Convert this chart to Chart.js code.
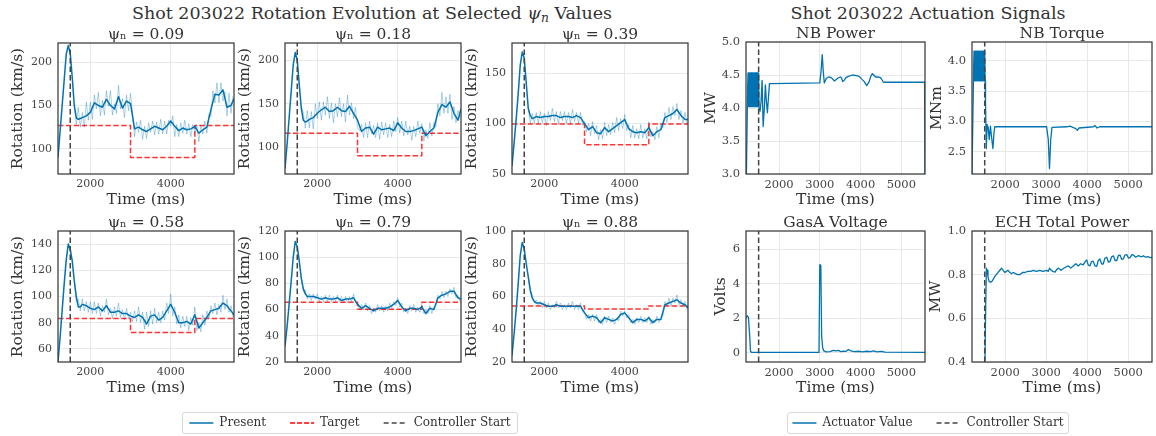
<!DOCTYPE html>
<html>
<head>
<meta charset="utf-8">
<title>Shot 203022</title>
<script src="https://cdn.jsdelivr.net/npm/chart.js@4.4.1/dist/chart.umd.min.js"></script>
<style>
  body { margin: 0; background: #fff; }
  #fig { position: relative; width: 1156px; height: 436px; overflow: hidden; font-family: "DejaVu Serif", serif; color: #333; }
  #fig canvas { position: absolute; }
  .suptitle { position: absolute; top: 2px; font-size: 17.5px; line-height: 22px; text-align: center; white-space: nowrap; }
  .suptitle sub { font-size: 0.7em; vertical-align: -0.25em; line-height: 0; }
  .legendbox { position: absolute; border: 1px solid #d9d9d9; border-radius: 3px; box-sizing: border-box; }
</style>
</head>
<body>
<div id="fig">
  <div class="suptitle" style="left:0;width:744px">Shot 203022 Rotation Evolution at Selected <i>ψ<sub>n</sub></i> Values</div>
  <div class="suptitle" style="left:700px;width:456px">Shot 203022 Actuation Signals</div>
  <div class="legendbox" style="left:182px;top:412px;width:336px;height:22px"></div>
  <div class="legendbox" style="left:787px;top:412px;width:282px;height:22px"></div>
</div>
<script>
"use strict"
//----- rotation data (km/s) -----
// smoothed trace time base (ms)
const tFit = [1195,1250,1300,1350,1400,1450,1500,1550,1600,1650,1700,1750,1800,1900,2000,2100,2200,2300,2400,2500,2600,2700,2800,2900,3000,3100,3200,3300,3400,3500,3600,3700,3800,3900,4000,4100,4200,4300,4400,4500,4600,4700,4800,4900,5000,5100,5200,5300,5400,5500,5575];
// raw (unsmoothed) trace time base (ms)
const tRaw = [1600,1650,1700,1750,1800,1850,1900,1950,2000,2050,2100,2150,2200,2250,2300,2350,2400,2450,2500,2550,2600,2650,2700,2750,2800,2850,2900,2950,3000,3050,3100,3150,3200,3250,3300,3350,3400,3450,3500,3550,3600,3650,3700,3750,3800,3850,3900,3950,4000,4050,4100,4150,4200,4250,4300,4350,4400,4450,4500,4550,4600,4650,4700,4750,4800,4850,4900,4950,5000,5050,5100,5150,5200,5250,5300,5350,5400,5450,5500,5550];
// target step times (ms)
const targetT = [1195, 3000, 4600, 5575];
const controllerStart = 1500;

const psiValues = ["0.09", "0.18", "0.39", "0.58", "0.79", "0.88"];

const fit09 = [90,122,151,180,209,219,210,182,150,136,134,135,136,138,142,153,150,148,157,150,146,160,147,155,152,123,125,122,120,123,126,124,122,126,132,126,121,124,122,123,126,118,122,125,145,163,162,168,148,150,158];
const raw09 = [150,128,148,125,142,125,154,133,154,134,162,146,165,138,156,139,167,149,167,139,152,141,173,146,158,136,162,144,164,141,114,131,119,133,111,126,112,130,119,132,116,131,117,134,117,132,117,133,126,138,114,128,114,130,118,133,117,129,114,128,118,128,108,127,117,132,118,140,137,167,153,176,153,176,155,166,138,164,141,161];
const target09 = [127, 90, 127, 127];

const fit18 = [75,105,135,165,195,209,200,172,145,131,129,130,132,134,139,143,146,141,142,146,142,141,147,139,131,118,122,123,115,123,120,121,122,119,128,122,118,118,119,121,123,113,118,122,140,149,146,152,139,131,144];
const raw18 = [147,140,122,142,122,141,121,150,133,152,131,152,137,158,133,151,128,150,135,157,135,150,129,160,137,151,133,146,122,119,126,111,128,111,130,115,125,111,128,109,129,114,128,111,126,112,130,118,134,116,130,113,130,114,124,108,124,112,130,116,127,107,120,110,128,113,128,123,150,136,163,139,158,139,161,132,147,128,142,134];
const target18 = [116, 90, 116, 116];

const fit39 = [58,82,105,130,158,171,165,140,115,108,105,106,107,106,107,107,108,108,106,107,107,106,108,106,100,94,97,91,90,96,92,95,98,101,104,95,92,91,92,91,96,88,92,94,106,108,110,114,108,104,104];
const raw39 = [116,100,110,100,111,100,112,101,110,98,112,103,115,102,112,99,112,103,112,100,111,100,114,102,111,100,111,99,102,92,100,88,102,90,98,84,94,85,101,88,99,89,101,91,106,93,105,95,109,93,99,86,98,86,95,85,99,86,95,85,102,87,92,84,97,86,100,96,111,101,116,104,117,108,120,104,113,100,111,99];
const target39 = [99.5, 79, 99.5, 99.5];

const fit58 = [50,70,90,110,128,140,136,127,112,100,92,92,94,93,91,90,92,89,93,88,88,89,87,87,85,84,86,84,79,85,86,82,84,89,94,88,80,80,81,79,86,76,80,84,89,90,91,95,93,89,86];
const raw58 = [113,96,98,89,98,89,96,88,96,87,96,87,95,85,93,88,98,86,91,83,92,85,95,84,90,82,91,83,88,81,89,81,92,80,88,75,88,77,89,79,91,80,88,80,89,82,95,87,102,85,92,79,86,76,85,77,85,74,84,78,92,74,80,73,86,78,89,83,93,87,95,86,94,88,101,90,98,88,93,84];
const target58 = [83.3, 72.6, 83.3, 83.3];

const fit79 = [32,48,65,82,100,112,108,97,84,76,72,70,70,70,69,68,69,68,68,69,67,68,68,69,64,61,63,61,59,61,61,61,62,64,67,62,59,61,61,60,62,57,61,60,69,71,72,74,74,69,68];
const raw79 = [84,74,75,68,72,67,72,68,72,66,70,66,71,66,71,66,70,66,71,66,70,65,70,65,70,66,72,65,65,60,64,60,65,59,63,57,61,58,64,59,63,58,63,59,65,61,66,63,69,62,65,58,61,57,63,59,64,58,62,58,64,57,60,57,63,57,62,63,71,68,74,69,74,70,76,72,77,69,71,66];
const target79 = [65.6, 60.2, 65.6, 65.6];

const fit88 = [24,38,52,68,85,93,89,80,72,64,59,57,56,56,55,54,54,55,54,54,54,54,54,54,50,47,48,47,44,47,46,45,46,49,50,47,44,46,46,45,47,44,46,46,55,56,57,58,56,55,53];
const raw88 = [72,62,61,56,58,54,57,53,57,53,56,52,55,53,57,53,56,52,55,52,56,53,57,52,55,52,56,51,51,46,49,45,49,45,49,44,46,43,48,44,48,44,47,43,47,45,51,48,51,47,49,44,46,43,47,44,48,44,47,44,48,43,46,44,48,44,47,48,57,54,59,54,59,56,61,55,58,54,57,52];
const target88 = [54.2, 52.3, 54.2, 54.2];

// tick labels
const rotTicksX = [2000, 4000];
const rotTicks09 = [100, 150, 200];
const rotTicks18 = [100, 150, 200];
const rotTicks39 = [50, 100, 150];
const rotTicks58 = [60, 80, 100, 120, 140];
const rotTicks79 = [20, 40, 60, 80, 100, 120];
const rotTicks88 = [20, 40, 60, 80, 100];

//----- actuation data -----
const nbPowerT = [1190,1200,1230,1240,1250,1260,1270,1280,1290,1300,1310,1320,1330,1340,1350,1360,1370,1380,1390,1400,1410,1420,1430,1440,1450,1460,1470,1480,1490,1500,1510,1535,1560,1585,1610,1640,1665,1690,1715,1740,1765,1800,3000,3030,3060,3085,3110,3160,3220,3280,3360,3440,3500,3530,3560,3600,3640,3700,3800,3900,3965,4040,4090,4150,4210,4250,4290,4370,4430,4490,4530,4560,5570,5580];
const nbPowerV = [2.9,3.0,4.3,4.53,4.02,4.53,4.02,4.53,4.02,4.53,4.02,4.53,4.02,4.53,4.02,4.53,4.02,4.53,4.02,4.53,4.02,4.53,4.02,4.53,4.02,4.53,4.02,4.53,4.02,4.53,4.0,3.95,4.1,4.42,3.72,4.0,4.35,4.1,3.93,4.15,4.37,4.37,4.38,4.55,4.81,4.55,4.38,4.45,4.47,4.46,4.41,4.45,4.47,4.46,4.40,4.42,4.46,4.48,4.50,4.49,4.48,4.43,4.40,4.34,4.40,4.48,4.52,4.47,4.47,4.46,4.42,4.39,4.39,2.9];

const nbTorqueT = [1190,1230,1240,1250,1260,1270,1280,1290,1300,1310,1320,1330,1340,1350,1360,1370,1380,1390,1400,1410,1420,1430,1440,1450,1460,1470,1480,1490,1500,1510,1520,1540,1560,1585,1610,1640,1665,1700,1725,1745,3010,3050,3080,3110,3140,3500,3580,3650,3720,3760,3800,4150,4190,4240,4300,5580];
const nbTorqueV = [2.1,3.9,4.16,3.67,4.16,3.67,4.16,3.67,4.16,3.67,4.16,3.67,4.16,3.67,4.16,3.67,4.16,3.67,4.16,3.67,4.16,3.67,4.16,3.67,4.16,3.67,4.16,3.67,4.16,3.67,3.3,2.55,2.95,2.9,2.7,2.92,2.75,2.55,2.8,2.91,2.91,2.7,2.22,2.7,2.9,2.91,2.92,2.9,2.88,2.85,2.89,2.91,2.93,2.89,2.91,2.91];

const gasT = [1190,1220,1250,1280,1300,1330,2980,3000,3025,3045,3070,3100,3150,3250,3330,3400,3450,3520,3580,3640,3700,3760,3850,3950,4050,4150,4250,4320,4400,4500,4600,5580];
const gasV = [2.0,2.15,2.05,1.0,0.1,0.03,0.03,5.1,5.05,1.0,0.3,0.12,0.06,0.08,0.15,0.12,0.15,0.08,0.1,0.09,0.2,0.12,0.08,0.1,0.07,0.1,0.08,0.12,0.07,0.09,0.05,0.04];

const echT = [1500,1520,1540,1560,1580,1605,1640,1680,1740,1800,1870,1910,1950,1990,2030,2070,2110,2150,2200,2250,2300,2355,2420,2480,2550,2620,2680,2760,2845,2920,3010,3050,3080,3120,3160,3215,3260,3300,3360,3420,3480,3540,3600,3660,3720,3780,3840,3900,3950,3985,4025,4065,4105,4145,4190,4230,4270,4310,4350,4390,4430,4475,4515,4555,4600,4640,4680,4720,4760,4800,4840,4880,4920,4965,5005,5045,5090,5130,5180,5250,5310,5370,5430,5490,5540,5580];
const echV = [0.3,0.6,0.83,0.82,0.79,0.77,0.765,0.77,0.79,0.805,0.82,0.83,0.82,0.81,0.815,0.82,0.81,0.805,0.81,0.805,0.8,0.8,0.81,0.81,0.815,0.815,0.82,0.815,0.82,0.815,0.82,0.815,0.83,0.82,0.815,0.812,0.825,0.83,0.82,0.828,0.835,0.84,0.83,0.84,0.85,0.84,0.85,0.845,0.86,0.868,0.845,0.84,0.86,0.862,0.84,0.838,0.865,0.872,0.85,0.848,0.875,0.88,0.858,0.86,0.883,0.886,0.865,0.865,0.888,0.89,0.87,0.872,0.89,0.892,0.876,0.878,0.892,0.89,0.88,0.887,0.882,0.886,0.88,0.882,0.878,0.879];

const actTicksX = [2000, 3000, 4000, 5000];
const nbPowerTicks = [3.0, 3.5, 4.0, 4.5, 5.0];
const nbTorqueTicks = [2.5, 3.0, 3.5, 4.0];
const gasTicks = [0, 2, 4, 6];
const echTicks = [0.4, 0.6, 0.8, 1.0];

//----- styling -----
const FONT = '"DejaVu Serif", serif';
const BLUE = "#0173b2";
const BLUE_RAW = "rgba(1,115,178,0.33)";
const RED = "rgba(255,0,0,0.8)";
const DARK = "#444";
const GRID = "#e8e8e8";
const TOP = 24, BOTTOM = 38, RIGHT = 6;

const fig = document.getElementById("fig");

function xy(ts, vs) { return ts.map((t, i) => ({x: t, y: vs[i]})); }

const framePlugin = {//dark spines on all four sides
  id: "frame",
  afterDraw(chart) {
    const {ctx, chartArea: a} = chart;
    ctx.save();
    ctx.strokeStyle = "#3a3a3a";
    ctx.lineWidth = 1.25;
    ctx.strokeRect(a.left, a.top, a.right - a.left, a.bottom - a.top);
    ctx.restore();
  }
};

function addCanvas(left, top, w, h) {
  const c = document.createElement("canvas");
  c.width = w; c.height = h;
  c.style.left = left + "px"; c.style.top = top + "px";
  c.style.width = w + "px"; c.style.height = h + "px";
  fig.appendChild(c);
  return c;
}

function panel(p) {
  const c = addCanvas(p.x - p.L, p.y - TOP, p.L + p.w + RIGHT, TOP + p.h + BOTTOM);
  const lineDefaults = {pointRadius: 0, tension: 0, fill: false, clip: 0, borderJoinStyle: "round"};
  const datasets = [
    Object.assign({label: "Controller Start", data: [{x: controllerStart, y: p.yMin}, {x: controllerStart, y: p.yMax}],
      borderColor: DARK, borderWidth: 1.5, borderDash: [5.5, 3]}, lineDefaults),
    Object.assign({label: p.mainLabel, data: xy(p.t, p.v), borderColor: BLUE, borderWidth: p.lw}, lineDefaults)
  ];
  if (p.target) datasets.push(Object.assign({label: "Target", data: xy(targetT, p.target), stepped: true,
      borderColor: RED, borderWidth: 1.5, borderDash: [5.5, 2.4]}, lineDefaults));
  if (p.raw) datasets.push(Object.assign({label: "Raw", data: xy(tRaw, p.raw), borderColor: BLUE_RAW, borderWidth: 1}, lineDefaults));

  new Chart(c, {
    type: "line",
    data: {datasets: datasets},
    options: {
      responsive: false,
      animation: false,
      events: [],
      layout: {padding: {left: 0, top: 0, right: RIGHT, bottom: 0}},
      plugins: {
        legend: {display: false},
        tooltip: {enabled: false},
        title: {display: true, text: p.title, color: "#333", fullSize: false,
          font: {family: FONT, size: 15.5, weight: "normal", lineHeight: 1.0}, padding: {top: 8.5, bottom: 0}}
      },
      scales: {
        x: {
          type: "linear", min: p.xMin, max: p.xMax,
          afterBuildTicks: s => { s.ticks = p.xTicks.map(v => ({value: v})); },
          afterFit: s => { s.height = BOTTOM; },
          ticks: {autoSkip: false, maxRotation: 0, padding: 4, color: DARK,
            font: {family: FONT, size: p.tickSize}, callback: v => String(v)},
          grid: {color: GRID, drawTicks: false},
          border: {display: false},
          title: {display: true, text: "Time (ms)", color: "#333",
            font: {family: FONT, size: 15.5, lineHeight: 1.2}, padding: {top: 0, bottom: 3}}
        },
        y: {
          type: "linear", min: p.yMin, max: p.yMax,
          afterBuildTicks: s => { s.ticks = p.yTicks.map(v => ({value: v})); },
          afterFit: s => { s.width = p.L; },
          ticks: {autoSkip: false, padding: 6, color: DARK,
            font: {family: FONT, size: p.tickSize}, callback: v => v.toFixed(p.dec)},
          grid: {color: GRID, drawTicks: false},
          border: {display: false},
          title: {display: true, text: p.yLabel, color: "#333",
            font: {family: FONT, size: 15.5, lineHeight: 1.2}, padding: {top: 1, bottom: 0}}
        }
      }
    },
    plugins: [framePlugin]
  });
}

//----- rotation panels -----
const rotFits = [fit09, fit18, fit39, fit58, fit79, fit88];
const rotRaws = [raw09, raw18, raw39, raw58, raw79, raw88];
const rotTargets = [target09, target18, target39, target58, target79, target88];
const rotTicksY = [rotTicks09, rotTicks18, rotTicks39, rotTicks58, rotTicks79, rotTicks88];
const rotLimits = [[71, 222], [69, 220], [50, 180], [50, 150], [20, 120], [20, 100]];
const rotPos = [[58, 43], [285, 43], [512, 43], [58, 231], [285, 231], [512, 231]];

for (let i = 0; i < 6; i++) {
  panel({
    title: "ψₙ = " + psiValues[i], yLabel: "Rotation (km/s)", mainLabel: "Present",
    x: rotPos[i][0], y: rotPos[i][1], w: 176, h: 131, L: 50,
    t: tFit, v: rotFits[i], raw: rotRaws[i], target: rotTargets[i], lw: 1.5,
    xMin: 1195, xMax: 5575, xTicks: rotTicksX,
    yMin: rotLimits[i][0], yMax: rotLimits[i][1], yTicks: rotTicksY[i], dec: 0, tickSize: 11
  });
}

//----- actuation panels -----
const actCommon = {mainLabel: "Actuator Value", lw: 1.3, xMin: 1190, xMax: 5580, xTicks: actTicksX, tickSize: 11.5};
panel(Object.assign({title: "NB Power", yLabel: "MW", x: 746, y: 42, w: 179, h: 132, L: 45,
  t: nbPowerT, v: nbPowerV, yMin: 3.0, yMax: 5.0, yTicks: nbPowerTicks, dec: 1}, actCommon));
panel(Object.assign({title: "NB Torque", yLabel: "MNm", x: 972, y: 42, w: 180, h: 132, L: 45,
  t: nbTorqueT, v: nbTorqueV, yMin: 2.13, yMax: 4.31, yTicks: nbTorqueTicks, dec: 1}, actCommon));
panel(Object.assign({title: "GasA Voltage", yLabel: "Volts", x: 746, y: 231, w: 179, h: 131, L: 35,
  t: gasT, v: gasV, yMin: -0.52, yMax: 7.04, yTicks: gasTicks, dec: 0}, actCommon));
panel(Object.assign({title: "ECH Total Power", yLabel: "MW", x: 972, y: 231, w: 180, h: 131, L: 46,
  t: echT, v: echV, yMin: 0.4, yMax: 1.0, yTicks: echTicks, dec: 1}, actCommon));

//----- legends -----
function legend(left, top, items) {
  const c = addCanvas(left, top, 400, 100);
  new Chart(c, {
    type: "line",
    data: {datasets: items.map(it => ({label: it.label, data: [], borderColor: it.color,
      backgroundColor: it.color, borderWidth: it.width, borderDash: it.dash}))},
    options: {
      responsive: false, animation: false, events: [],
      layout: {padding: 0},
      scales: {x: {display: false}, y: {display: false}},
      plugins: {
        tooltip: {enabled: false},
        legend: {display: true, position: "top", align: "center",
          labels: {usePointStyle: true, pointStyle: "line", pointStyleWidth: 24, padding: 24,
            color: "#333", font: {family: FONT, size: 12},
            // keep the dash pattern of each line in its legend sample
            generateLabels: chart => chart.data.datasets.map((d, i) => ({
              text: d.label, datasetIndex: i, hidden: false, pointStyle: "line",
              strokeStyle: d.borderColor, fillStyle: d.borderColor, fontColor: "#333",
              lineWidth: d.borderWidth, lineDash: d.borderDash, lineCap: "butt"
            }))}}
      }
    }
  });
}
legend(150, 393, [
  {label: "Present", color: BLUE, width: 1.5, dash: []},
  {label: "Target", color: "#ff0000", width: 1.5, dash: [5, 2]},
  {label: "Controller Start", color: DARK, width: 1.5, dash: [5, 3]}
]);
legend(728, 393, [
  {label: "Actuator Value", color: BLUE, width: 1.5, dash: []},
  {label: "Controller Start", color: DARK, width: 1.5, dash: [5, 3]}
]);
</script>
</body>
</html>
